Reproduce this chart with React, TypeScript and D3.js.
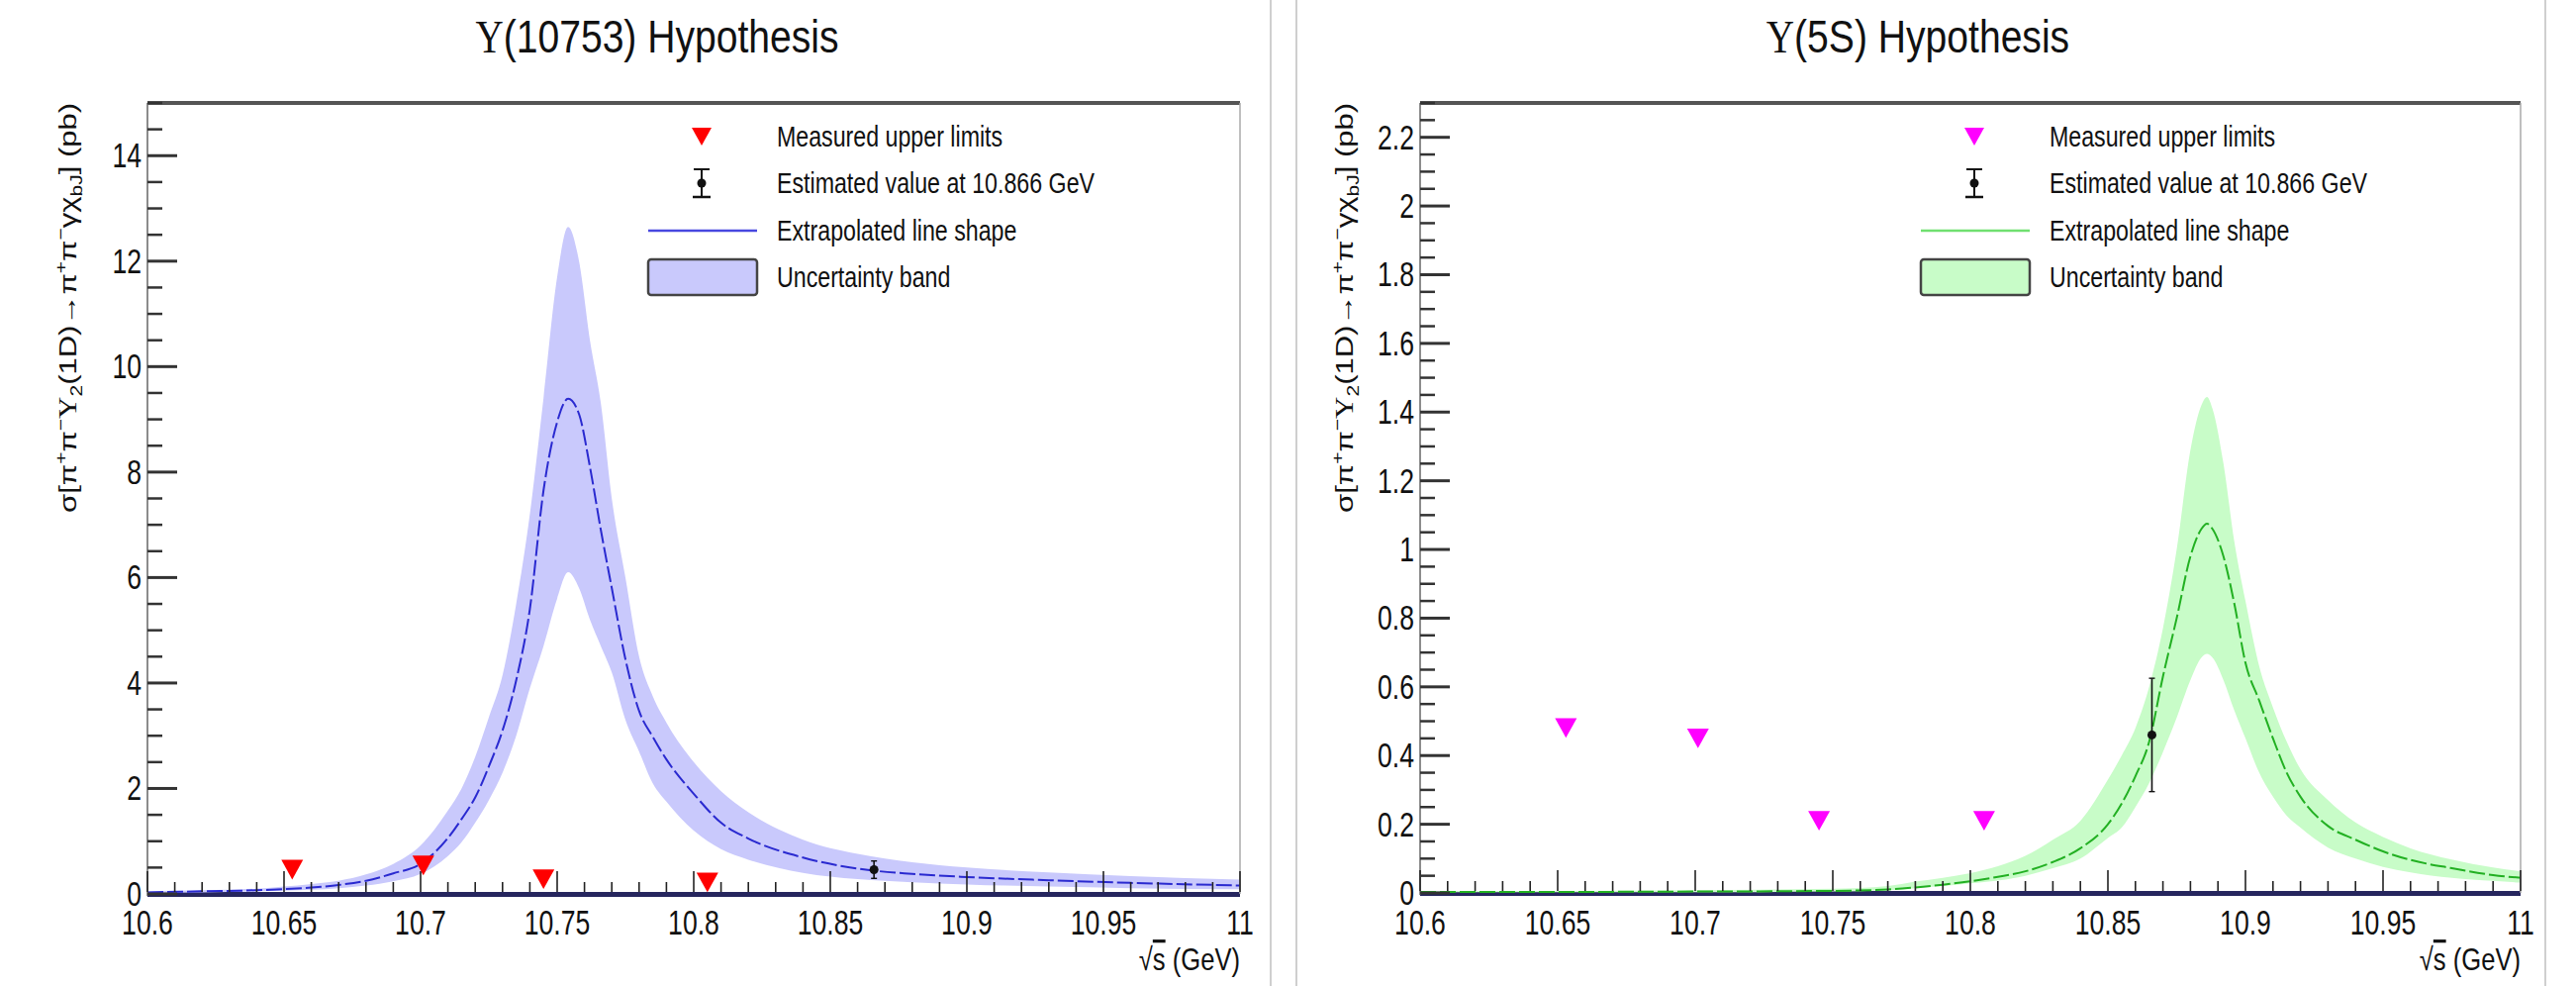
import React from 'react';
import * as d3 from 'd3';

// x axis
const xTicks = [10.6, 10.65, 10.7, 10.75, 10.8, 10.85, 10.9, 10.95, 11];
const xTickLabels = ['10.6', '10.65', '10.7', '10.75', '10.8', '10.85', '10.9', '10.95', '11'];

// measured upper limits (energy points)
const limitX = [10.653, 10.701, 10.745, 10.805];
const limitsA = [0.46, 0.54, 0.28, 0.22];
const limitsB = [0.48, 0.45, 0.21, 0.21];

// estimated value at 10.866 GeV
const estX = 10.866;
const estY = 0.46;
const estErr = 0.165;

// Y(10753) hypothesis: line shape + uncertainty band
const gridA = [10.6, 10.62, 10.64, 10.65, 10.66, 10.67, 10.68, 10.69, 10.7, 10.71, 10.715, 10.72, 10.725, 10.73, 10.735, 10.74, 10.745, 10.75, 10.754, 10.758, 10.762, 10.766, 10.77, 10.775, 10.78, 10.785, 10.79, 10.8, 10.81, 10.82, 10.84, 10.86, 10.88, 10.9, 10.93, 10.96, 11.0];
const centralA = [0.03, 0.05, 0.07, 0.09, 0.12, 0.17, 0.25, 0.39, 0.57, 1.06, 1.42, 1.83, 2.42, 3.1, 4.05, 5.4, 7.65, 8.95, 9.39, 9.1, 8.1, 6.9, 5.8, 4.45, 3.47, 2.98, 2.55, 1.9, 1.35, 1.05, 0.69, 0.48, 0.38, 0.32, 0.26, 0.21, 0.16];
const upperA = [0.05, 0.07, 0.1, 0.14, 0.19, 0.25, 0.37, 0.57, 0.92, 1.58, 2.0, 2.6, 3.35, 4.15, 5.5, 7.2, 9.4, 11.7, 12.65, 12.0, 10.5, 9.3, 7.5, 6.0, 4.5, 3.75, 3.25, 2.5, 1.95, 1.55, 1.03, 0.76, 0.6, 0.5, 0.41, 0.34, 0.27];
const lowerA = [0.02, 0.03, 0.05, 0.06, 0.08, 0.11, 0.16, 0.24, 0.38, 0.72, 0.98, 1.35, 1.78, 2.3, 3.0, 3.9, 4.7, 5.6, 6.1, 5.8, 5.2, 4.7, 4.2, 3.3, 2.7, 2.1, 1.75, 1.2, 0.85, 0.65, 0.4, 0.28, 0.22, 0.18, 0.14, 0.11, 0.09];

// Y(5S) hypothesis
const gridB = [10.6, 10.65, 10.7, 10.75, 10.77, 10.78, 10.79, 10.8, 10.81, 10.82, 10.83, 10.84, 10.85, 10.855, 10.86, 10.865, 10.87, 10.875, 10.88, 10.884, 10.886, 10.888, 10.892, 10.896, 10.9, 10.905, 10.91, 10.915, 10.92, 10.93, 10.94, 10.95, 10.96, 10.975, 10.99, 11.0];
const centralB = [0.003, 0.003, 0.004, 0.006, 0.01, 0.016, 0.024, 0.034, 0.047, 0.063, 0.09, 0.13, 0.2, 0.26, 0.34, 0.44, 0.63, 0.8, 0.98, 1.06, 1.075, 1.06, 0.98, 0.84, 0.67, 0.56, 0.45, 0.35, 0.28, 0.195, 0.155, 0.121, 0.096, 0.072, 0.052, 0.044];
const upperB = [0.005, 0.006, 0.008, 0.012, 0.02, 0.033, 0.044, 0.058, 0.078, 0.108, 0.155, 0.21, 0.33, 0.4, 0.48, 0.6, 0.77, 1.0, 1.29, 1.42, 1.444, 1.41, 1.25, 1.02, 0.85, 0.66, 0.54, 0.44, 0.36, 0.27, 0.205, 0.163, 0.13, 0.097, 0.074, 0.063];
const lowerB = [0.002, 0.002, 0.002, 0.004, 0.008, 0.014, 0.02, 0.028, 0.036, 0.05, 0.072, 0.1, 0.16, 0.19, 0.25, 0.32, 0.41, 0.51, 0.62, 0.685, 0.696, 0.685, 0.62, 0.53, 0.45, 0.35, 0.28, 0.225, 0.19, 0.132, 0.1, 0.076, 0.06, 0.044, 0.035, 0.03];

const yTicksA = [0, 2, 4, 6, 8, 10, 12, 14];
const yLabelsA = ['0', '2', '4', '6', '8', '10', '12', '14'];
const yTicksB = [0, 0.2, 0.4, 0.6, 0.8, 1, 1.2, 1.4, 1.6, 1.8, 2, 2.2];
const yLabelsB = ['0', '0.2', '0.4', '0.6', '0.8', '1', '1.2', '1.4', '1.6', '1.8', '2', '2.2'];

const legendLabels = ['Measured upper limits', 'Estimated value at 10.866 GeV', 'Extrapolated line shape', 'Uncertainty band'];

const FONT = '"Liberation Sans", Arial, Helvetica, sans-serif';
const SERIF = '"Liberation Serif", "Times New Roman", serif';

function triangle(cx: number, cy: number, s: number) {
  const h = s * 0.9;
  return `M${cx - s / 2},${cy - h / 2}L${cx + s / 2},${cy - h / 2}L${cx},${cy + h / 2}Z`;
}

// narrow text: the original figure is squeezed sideways
function T({ x, y, size, anchor = 'start', sx = 0.8, children }: any) {
  return (
    <text transform={`translate(${x},${y}) scale(${sx},1)`} fontSize={size} textAnchor={anchor} fill="#111">
      {children}
    </text>
  );
}

function YTitle({ x, y }: { x: number; y: number }) {
  // σ[π+π−Υ2(1D)→π+π−γχbJ] (pb)
  const segs: [string, number][] = [
    ['σ[π', 0], ['+', -1], ['π', 0], ['−', -1], ['Υ', 0], ['2', 1], ['(1D)→π', 0], ['+', -1], ['π', 0], ['−', -1], ['γχ', 0], ['bJ', 1], ['] (pb)', 0],
  ];
  let prev = 0;
  return (
    <text transform={`translate(${x},${y}) rotate(-90) scale(1,0.8)`} textAnchor="end" fontSize={31} fontFamily={FONT} fill="#111">
      {segs.map(([t, s], i) => {
        const off = s === -1 ? -12 : s === 1 ? 8 : 0;
        const dy = off - prev;
        prev = off;
        return (
          <tspan key={i} dy={dy} fontSize={s === 0 ? 31 : 21} fontFamily={t === 'Υ' ? SERIF : undefined}>{t}</tspan>
        );
      })}
    </text>
  );
}

type PanelProps = {
  left: number; right: number; top: number; bottom: number;
  yMax: number; yTicks: number[]; yLabels: string[]; yMinor: number;
  grid: number[]; central: number[]; upper: number[]; lower: number[];
  limits: number[]; markerColor: string; bandColor: string; lineColor: string; legendLineColor: string;
  title: string; titleX: number;
};

function Panel(p: PanelProps) {
  const x = d3.scaleLinear().domain([10.6, 11]).range([p.left, p.right]);
  const y = d3.scaleLinear().domain([0, p.yMax]).range([p.bottom, p.top]);
  const pts = p.grid.map((g, i) => ({ g, c: p.central[i], u: p.upper[i], l: p.lower[i] }));
  const area = d3.area<any>().x(d => x(d.g)).y0(d => y(d.l)).y1(d => y(d.u)).curve(d3.curveMonotoneX);
  const line = d3.line<any>().x(d => x(d.g)).y(d => y(d.c)).curve(d3.curveMonotoneX);
  const xMinor = d3.range(0, 41).map(i => 10.6 + i * 0.01);
  const nMinorY = Math.floor(p.yMax / p.yMinor + 1e-6);
  const yMinor = d3.range(0, nMinorY + 1).map(i => i * p.yMinor);
  const lx = p.left;
  const rows = [138, 185, 233, 280];
  const clipId = `clip-${p.left}`;
  return (
    <g fontFamily={FONT}>
      <defs>
        <clipPath id={clipId}>
          <rect x={p.left} y={p.top} width={p.right - p.left} height={p.bottom - p.top + 4} />
        </clipPath>
      </defs>
      {/* title */}
      <T x={p.titleX} y={53} size={46} anchor="middle" sx={0.85}>
        <tspan fontFamily={SERIF}>Υ</tspan>{p.title}
      </T>

      {/* y=0 baseline */}
      <rect x={p.left} y={p.bottom - 2} width={p.right - p.left} height={5} fill="#26265e" />

      <g clipPath={`url(#${clipId})`}>
        <path d={area(pts) || ''} fill={p.bandColor} />
        <path d={line(pts) || ''} fill="none" stroke={p.lineColor} strokeWidth={2} strokeDasharray="16 4" />
      </g>

      {/* frame */}
      <line x1={p.left} x2={p.right} y1={p.top} y2={p.top} stroke="#555" strokeWidth={4} />
      <line x1={p.right} x2={p.right} y1={p.top} y2={p.bottom} stroke="#aaa" strokeWidth={1.5} />
      <line x1={p.left} x2={p.left} y1={p.top} y2={p.bottom + 2} stroke="#666" strokeWidth={1.5} />

      {/* x ticks */}
      {xMinor.map((v, i) => {
        const major = i % 5 === 0;
        return <line key={'xm' + i} x1={x(v)} x2={x(v)} y1={p.bottom - 2} y2={p.bottom - (major ? 23 : 12)} stroke="#222" strokeWidth={1.6} />;
      })}
      {xTicks.map((v, i) => (
        <T key={'xl' + i} x={x(v)} y={944} size={35} anchor="middle" sx={0.76}>{xTickLabels[i]}</T>
      ))}
      <T x={p.right} y={980} size={32} anchor="end" sx={0.8}>
        √<tspan textDecoration="overline">s</tspan> (GeV)
      </T>

      {/* y ticks */}
      {yMinor.map((v, i) => {
        const major = p.yTicks.some(t => Math.abs(t - v) < 1e-6);
        return <line key={'ym' + i} x1={p.left} x2={p.left + (major ? 30 : 15)} y1={y(v)} y2={y(v)} stroke="#333" strokeWidth={major ? 3 : 2.5} />;
      })}
      {p.yTicks.map((v, i) => (
        <T key={'yl' + i} x={p.left - 6} y={y(v) + 12} size={35} anchor="end" sx={0.76}>{p.yLabels[i]}</T>
      ))}

      {/* upper limits */}
      {limitX.map((v, i) => (
        <path key={'ul' + i} d={triangle(x(v), y(p.limits[i]), 22)} fill={p.markerColor} />
      ))}

      {/* estimated value */}
      <line x1={x(estX)} x2={x(estX)} y1={y(estY - estErr)} y2={y(estY + estErr)} stroke="#111" strokeWidth={1.6} />
      <line x1={x(estX) - 3} x2={x(estX) + 3} y1={y(estY + estErr)} y2={y(estY + estErr)} stroke="#111" strokeWidth={1.4} />
      <line x1={x(estX) - 3} x2={x(estX) + 3} y1={y(estY - estErr)} y2={y(estY - estErr)} stroke="#111" strokeWidth={1.4} />
      <circle cx={x(estX)} cy={y(estY)} r={4.5} fill="#111" />

      {/* legend */}
      <path d={triangle(lx + 560, rows[0], 20)} fill={p.markerColor} />
      <line x1={lx + 560} x2={lx + 560} y1={rows[1] - 14} y2={rows[1] + 14} stroke="#111" strokeWidth={2} />
      <line x1={lx + 552} x2={lx + 568} y1={rows[1] - 14} y2={rows[1] - 14} stroke="#111" strokeWidth={2} />
      <line x1={lx + 551} x2={lx + 569} y1={rows[1] + 14} y2={rows[1] + 14} stroke="#111" strokeWidth={2.5} />
      <circle cx={lx + 560} cy={rows[1]} r={4.5} fill="#111" />
      <line x1={lx + 506} x2={lx + 616} y1={rows[2]} y2={rows[2]} stroke={p.legendLineColor} strokeWidth={2.5} />
      <rect x={lx + 506} y={rows[3] - 18} width={110} height={36} rx={3} fill={p.bandColor} stroke="#444" strokeWidth={2.5} />
      {legendLabels.map((t, i) => (
        <T key={'lg' + i} x={lx + 636} y={rows[i] + 10} size={29} sx={0.8}>{t}</T>
      ))}
    </g>
  );
}

export default function App() {
  return (
    <svg width={2603} height={996} viewBox="0 0 2603 996" style={{ position: 'absolute', left: 0, top: 0, background: '#fff' }}>
      <rect x={0} y={0} width={2603} height={996} fill="#fff" />
      <line x1={1284} x2={1284} y1={0} y2={996} stroke="#cfcfcf" strokeWidth={2} />
      <line x1={1310} x2={1310} y1={0} y2={996} stroke="#cfcfcf" strokeWidth={2} />
      <line x1={2572} x2={2572} y1={0} y2={996} stroke="#cfcfcf" strokeWidth={2} />
      <YTitle x={77} y={104} />
      <YTitle x={1367} y={104} />
      <Panel left={149} right={1253} top={104} bottom={903} yMax={15} yTicks={yTicksA} yLabels={yLabelsA} yMinor={0.5}
        grid={gridA} central={centralA} upper={upperA} lower={lowerA} limits={limitsA}
        markerColor="#ff0000" bandColor="#c9c9fc" lineColor="#2a2ad0" legendLineColor="#4848e0"
        title="(10753) Hypothesis" titleX={664} />
      <Panel left={1435} right={2547} top={104} bottom={902} yMax={2.3} yTicks={yTicksB} yLabels={yLabelsB} yMinor={0.05}
        grid={gridB} central={centralB} upper={upperB} lower={lowerB} limits={limitsB}
        markerColor="#ff00ff" bandColor="#c8fcc8" lineColor="#22b022" legendLineColor="#70e070"
        title="(5S) Hypothesis" titleX={1938} />
    </svg>
  );
}
